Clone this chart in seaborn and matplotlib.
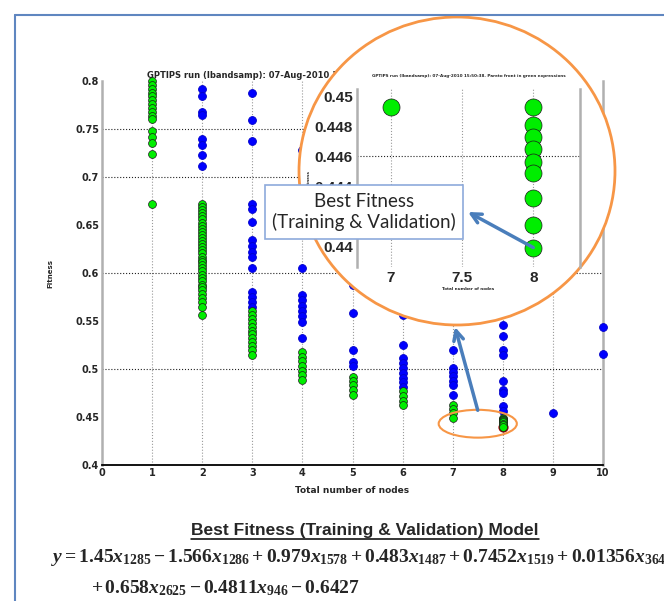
import numpy as np
import pandas as pd
import matplotlib
matplotlib.use("Agg")
import matplotlib.pyplot as plt
from matplotlib import font_manager
from matplotlib.patches import Ellipse, ConnectionPatch
from matplotlib.lines import Line2D
import seaborn as sns

# fitness of the models, one list per total number of nodes
pareto_1 = [0.800, 0.796, 0.792, 0.788, 0.784, 0.780, 0.776, 0.772, 0.768, 0.764,
            0.760, 0.748, 0.742, 0.735, 0.724, 0.672]
pareto_2 = [0.672, 0.669, 0.666, 0.662, 0.659, 0.656, 0.652, 0.649, 0.646, 0.643,
            0.640, 0.636, 0.633, 0.630, 0.627, 0.624, 0.621, 0.617, 0.614, 0.611,
            0.608, 0.605, 0.602, 0.598, 0.595, 0.592, 0.588, 0.585, 0.582, 0.578,
            0.574, 0.570, 0.565, 0.556]
pareto_3 = [0.560, 0.556, 0.552, 0.548, 0.544, 0.540, 0.536, 0.532, 0.528, 0.524,
            0.520, 0.515]
pareto_4 = [0.518, 0.513, 0.508, 0.503, 0.498, 0.494, 0.489]
pareto_5 = [0.492, 0.487, 0.483, 0.478, 0.473]
pareto_6 = [0.477, 0.472, 0.467, 0.462]
pareto_7 = [0.4620, 0.4580, 0.4540, 0.4493]
pareto_8 = [0.4493, 0.4481, 0.4473, 0.4465, 0.4456, 0.4449, 0.4432, 0.4414, 0.4399]

other_2 = [0.792, 0.784, 0.768, 0.765, 0.740, 0.733, 0.723, 0.711]
other_3 = [0.787, 0.759, 0.737, 0.672, 0.667, 0.653, 0.634, 0.628, 0.622, 0.617,
           0.605, 0.580, 0.575, 0.570, 0.565]
other_4 = [0.728, 0.605, 0.577, 0.572, 0.566, 0.560, 0.555, 0.549, 0.532]
other_5 = [0.587, 0.558, 0.520, 0.507, 0.503]
other_6 = [0.556, 0.525, 0.511, 0.506, 0.501, 0.496, 0.491, 0.486, 0.481]
other_7 = [0.520, 0.501, 0.497, 0.493, 0.488, 0.483, 0.473]
other_8 = [0.546, 0.534, 0.520, 0.515, 0.487, 0.478, 0.475, 0.461, 0.456]
other_9 = [0.454]
other_10 = [0.544, 0.516]

best_nodes = 8
best_fitness = 0.4399

y_ticks = [0.4, 0.45, 0.5, 0.55, 0.6, 0.65, 0.7, 0.75, 0.8]
y_grid = [0.5, 0.6, 0.7, 0.75]
x_ticks = list(range(11))
zoom_yticks = [0.44, 0.442, 0.444, 0.446, 0.448, 0.45]
zoom_ylabels = ["0.44", "0.442", "0.444", "0.446", "0.448", "0.45"]
zoom_xticks = [7, 7.5, 8]
zoom_xlabels = ["7", "7.5", "8"]

title = "GPTIPS run (lbandsamp): 07-Aug-2010 1"
zoom_title = "GPTIPS run (lbandsamp): 07-Aug-2010 15:50:38. Pareto front in green expressions"
model_title = "Best Fitness (Training & Validation) Model"
eq_line1 = (r"$y = 1.45x_{1285} - 1.566x_{1286} + 0.979x_{1578} + 0.483x_{1487}"
            r" + 0.7452x_{1519} + 0.01356x_{3642}$")
eq_line2 = r"$+\,0.658x_{2625} - 0.4811x_{946} - 0.6427$"

rows = []
for n, vals in [(1, pareto_1), (2, pareto_2), (3, pareto_3), (4, pareto_4), (5, pareto_5),
                (6, pareto_6), (7, pareto_7), (8, pareto_8)]:
    rows += [(n, v, "pareto") for v in vals]
for n, vals in [(2, other_2), (3, other_3), (4, other_4), (5, other_5), (6, other_6),
                (7, other_7), (8, other_8), (9, other_9), (10, other_10)]:
    rows += [(n, v, "other") for v in vals]
df = pd.DataFrame(rows, columns=["nodes", "fitness", "set"])

sns.set_style("white")
plt.rcParams["font.family"] = ["DejaVu Sans"]
plt.rcParams["mathtext.fontset"] = "custom"
plt.rcParams["mathtext.rm"] = "Liberation Serif:bold"
plt.rcParams["mathtext.it"] = "Liberation Serif:italic:bold"
plt.rcParams["mathtext.bf"] = "Liberation Serif:bold"

names = {f.name for f in font_manager.fontManager.ttflist}
narrow = "Liberation Sans Narrow" if "Liberation Sans Narrow" in names else "Liberation Sans"

W, H = 664, 601


def fx(x):
    return x / W


def fy(y):
    return 1 - y / H


fig = plt.figure(figsize=(W / 100, H / 100), dpi=100)
fig.patch.set_facecolor("white")

# main population plot
ax = fig.add_axes([fx(102), fy(465), fx(501), 384 / H])
sns.scatterplot(data=df[df["set"] == "other"], x="nodes", y="fitness", color="#0000ff",
                edgecolor="#0000c8", linewidth=0.6, s=32, ax=ax, clip_on=False, zorder=3)
ax.scatter([best_nodes], [best_fitness], s=40, color="#ff0000", edgecolor="#aa0000",
           zorder=3.5, clip_on=False)
sns.scatterplot(data=df[df["set"] == "pareto"], x="nodes", y="fitness", color="#00ee00",
                edgecolor="#1a1a1a", linewidth=0.5, s=32, ax=ax, clip_on=False, zorder=4)
ax.set_xlim(0, 10)
ax.set_ylim(0.4, 0.8)
ax.set_xticks(x_ticks)
ax.set_yticks(y_ticks)
ax.set_yticklabels([f"{v:g}" for v in y_ticks])
ax.tick_params(length=0, labelsize=7, pad=2)
for lab in ax.get_xticklabels() + ax.get_yticklabels():
    lab.set_fontweight("bold")
for x in x_ticks[1:-1]:
    ax.axvline(x, color="#9a9a9a", lw=0.8, ls=":", zorder=1)
for y in y_grid:
    ax.axhline(y, color="#222222", lw=0.8, ls=":", zorder=1)
for s in ["left", "right"]:
    ax.spines[s].set_color("#b0b0b0")
    ax.spines[s].set_linewidth(1.8)
ax.spines["top"].set_visible(False)
ax.spines["bottom"].set_color("black")
ax.spines["bottom"].set_linewidth(1.3)
ax.set_xlabel("Total number of nodes", fontsize=6.5, fontweight="bold", labelpad=6)
ax.set_ylabel("Fitness", fontsize=5, fontweight="bold", labelpad=16)
ax.text(fx(147), fy(75), title, transform=fig.transFigure, ha="left", va="center",
        fontsize=6, fontweight="bold")

# small ellipse around the best models
ax.add_patch(Ellipse((7.5, 0.443), 1.56, 0.029, fill=False, ec="#f79646", lw=1.5,
                     clip_on=False, zorder=5))

# magnifier circle
circle = Ellipse((fx(457), fy(171)), 316 / W, 308 / H, transform=fig.transFigure,
                 fc="white", ec="#f79646", lw=2, zorder=1)
fig.add_artist(circle)

# zoomed view
axz = fig.add_axes([fx(357), fy(267), fx(223), 178 / H], zorder=2)
axz.patch.set_alpha(0)
sns.scatterplot(data=df[df["set"] == "pareto"], x="nodes", y="fitness", color="#00ee00",
                edgecolor="#1a1a1a", linewidth=0.5, s=150, ax=axz, zorder=4)
axz.set_xlim(6.763, 8.328)
axz.set_ylim(0.4386, 0.4505)
axz.set_xticks(zoom_xticks)
axz.set_xticklabels(zoom_xlabels)
axz.set_yticks(zoom_yticks)
axz.set_yticklabels(zoom_ylabels)
axz.tick_params(length=0, labelsize=11, pad=3)
for lab in axz.get_xticklabels() + axz.get_yticklabels():
    lab.set_fontfamily("Liberation Sans")
    lab.set_fontweight("bold")
for x in zoom_xticks:
    axz.axvline(x, color="#9a9a9a", lw=0.8, ls=":", zorder=1)
axz.axhline(0.446, color="#222222", lw=0.8, ls=":", zorder=1)
for s in ["left", "right"]:
    axz.spines[s].set_color("#b0b0b0")
    axz.spines[s].set_linewidth(1.8)
for s in ["top", "bottom"]:
    axz.spines[s].set_visible(False)
axz.set_xlabel("Total number of nodes", fontsize=3, fontweight="bold", labelpad=1)
axz.set_ylabel("Fitness", fontsize=3, fontweight="bold", labelpad=3)
axz.set_title(zoom_title, fontsize=3, fontweight="bold", pad=9)

# callout box and arrows
fig.text(fx(364), fy(212), "Best Fitness\n(Training & Validation)", ha="center", va="center",
         fontsize=13.5, family="Lato", linespacing=1.25, zorder=6,
         bbox=dict(boxstyle="square,pad=0.4", fc="white", ec="#8eaadb", lw=1.2))
arr1 = ConnectionPatch(xyA=(best_nodes, best_fitness), coordsA=axz.transData,
                       xyB=(fx(468), fy(212)), coordsB=fig.transFigure,
                       arrowstyle="->,head_length=0.7,head_width=0.35", color="#4a7ebb",
                       lw=2.5, shrinkA=0, shrinkB=0, zorder=7)
fig.add_artist(arr1)
arr2 = ConnectionPatch(xyA=(7.5, 0.457), coordsA=ax.transData,
                       xyB=(fx(455), fy(327)), coordsB=fig.transFigure,
                       arrowstyle="->,head_length=0.7,head_width=0.35", color="#4a7ebb",
                       lw=2.5, shrinkA=0, shrinkB=0, zorder=7)
fig.add_artist(arr2)

# slide frame
fig.add_artist(Line2D([fx(15), 1], [fy(15), fy(15)], transform=fig.transFigure,
                      color="#5f86c0", lw=1.5))
fig.add_artist(Line2D([fx(15), fx(15)], [fy(15), 0], transform=fig.transFigure,
                      color="#5f86c0", lw=1.5))

# model text
mt = fig.text(fx(365), fy(530), model_title, ha="center", va="center", fontsize=12,
              family=narrow, fontweight="bold")
fig.text(fx(51), fy(557), eq_line1, ha="left", va="center", fontsize=14)
fig.text(fx(91), fy(588), eq_line2, ha="left", va="center", fontsize=14)

fig.canvas.draw()
bb = mt.get_window_extent()
mt.set_fontsize(12 * 345 / bb.width)
fig.canvas.draw()
bb = mt.get_window_extent().transformed(fig.transFigure.inverted())
fig.add_artist(Line2D([bb.x0, bb.x1], [bb.y0 - 0.002, bb.y0 - 0.002],
                      transform=fig.transFigure, color="black", lw=1.1))

fig.savefig("out.png", dpi=100)
